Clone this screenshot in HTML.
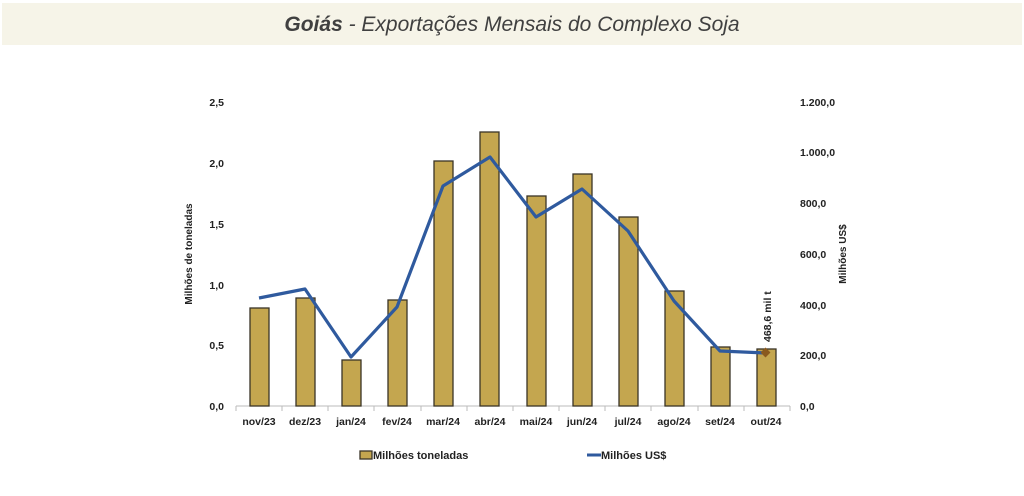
<!DOCTYPE html>
<html><head><meta charset="utf-8"><style>
body{margin:0;background:#fff;width:1024px;height:491px;overflow:hidden;font-family:"Liberation Sans",sans-serif}
</style></head><body>
<svg width="1024" height="491" xmlns="http://www.w3.org/2000/svg" font-family="Liberation Sans, sans-serif">
<rect x="2" y="3" width="1020" height="42" fill="#f6f4e8"/>
<text x="512" y="31" text-anchor="middle" font-size="21" font-style="italic" fill="#404040"><tspan font-weight="bold">Goiás</tspan> - Exportações Mensais do Complexo Soja</text>
<g font-size="10.5" font-weight="bold" fill="#222" text-anchor="end">
<text x="224" y="106">2,5</text><text x="224" y="167">2,0</text><text x="224" y="228">1,5</text><text x="224" y="289">1,0</text><text x="224" y="349">0,5</text><text x="224" y="410">0,0</text>
</g>
<g font-size="10.5" font-weight="bold" fill="#222" text-anchor="start">
<text x="800" y="106">1.200,0</text><text x="800" y="156">1.000,0</text><text x="800" y="207">800,0</text><text x="800" y="258">600,0</text><text x="800" y="309">400,0</text><text x="800" y="359">200,0</text><text x="800" y="410">0,0</text>
</g>
<text transform="translate(192,254) rotate(-90)" text-anchor="middle" font-size="10" font-weight="bold" fill="#222">Milhões de toneladas</text>
<text transform="translate(846,254) rotate(-90)" text-anchor="middle" font-size="10" font-weight="bold" fill="#222">Milhões US$</text>
<line x1="236" y1="406" x2="790" y2="406" stroke="#bbb" stroke-width="1"/>
<g stroke="#bbb"><line x1="236" y1="406" x2="236" y2="411"/><line x1="282" y1="406" x2="282" y2="411"/><line x1="328" y1="406" x2="328" y2="411"/><line x1="374" y1="406" x2="374" y2="411"/><line x1="421" y1="406" x2="421" y2="411"/><line x1="467" y1="406" x2="467" y2="411"/><line x1="513" y1="406" x2="513" y2="411"/><line x1="559" y1="406" x2="559" y2="411"/><line x1="605" y1="406" x2="605" y2="411"/><line x1="651" y1="406" x2="651" y2="411"/><line x1="698" y1="406" x2="698" y2="411"/><line x1="744" y1="406" x2="744" y2="411"/><line x1="790" y1="406" x2="790" y2="411"/></g>
<g fill="#c4a64f" stroke="#3a3426" stroke-width="1.3">
<rect x="250" y="308" width="19" height="98"/>
<rect x="296" y="298" width="19" height="108"/>
<rect x="342" y="360" width="19" height="46"/>
<rect x="388" y="300" width="19" height="106"/>
<rect x="434" y="161" width="19" height="245"/>
<rect x="480" y="132" width="19" height="274"/>
<rect x="527" y="196" width="19" height="210"/>
<rect x="573" y="174" width="19" height="232"/>
<rect x="619" y="217" width="19" height="189"/>
<rect x="665" y="291" width="19" height="115"/>
<rect x="711" y="347" width="19" height="59"/>
<rect x="757" y="349" width="19" height="57"/>
</g>
<polyline fill="none" stroke="#2f5a9e" stroke-width="3.2" stroke-linejoin="round" points="259,298 305,289 351,357 397,307 443,186 490,157 536,217 582,189 628,231 674,301 720,351 766,353"/>
<rect x="762" y="349" width="7" height="7" fill="#8a5a1e" transform="rotate(45 765.5 352.5)"/>
<text transform="translate(771,342) rotate(-90)" font-size="10.5" font-weight="bold" fill="#222">468,6 mil t</text>
<g font-size="10.5" font-weight="bold" fill="#222" text-anchor="middle">
<text x="259" y="425">nov/23</text><text x="305" y="425">dez/23</text><text x="351" y="425">jan/24</text><text x="397" y="425">fev/24</text><text x="443" y="425">mar/24</text><text x="490" y="425">abr/24</text><text x="536" y="425">mai/24</text><text x="582" y="425">jun/24</text><text x="628" y="425">jul/24</text><text x="674" y="425">ago/24</text><text x="720" y="425">set/24</text><text x="766" y="425">out/24</text>
</g>
<rect x="360" y="451" width="12" height="8" fill="#c4a64f" stroke="#3a3426" stroke-width="1.3"/>
<text x="373" y="459" font-size="11" font-weight="bold" fill="#222">Milhões toneladas</text>
<line x1="587" y1="455" x2="601" y2="455" stroke="#2f5a9e" stroke-width="3"/>
<text x="601" y="459" font-size="11" font-weight="bold" fill="#222">Milhões US$</text>
</svg>
</body></html>
